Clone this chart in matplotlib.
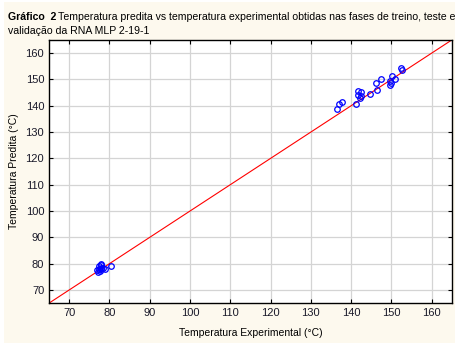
import matplotlib.pyplot as plt
from matplotlib.patches import Rectangle

plt.rcParams['font.family'] = ['Liberation Sans', 'DejaVu Sans']

# experimental vs predicted temperature (degC)
exp_low = [77.0, 77.3, 77.6, 77.8, 78.0, 77.5, 78.3, 78.8, 80.3, 77.2, 78.0, 77.9]
pred_low = [77.5, 78.0, 77.2, 78.5, 79.5, 79.0, 78.3, 78.0, 79.0, 76.8, 77.8, 80.0]
exp_high = [136.4, 137.0, 137.6, 141.3, 141.7, 142.5, 141.6, 142.4, 142.2, 144.6,
            146.1, 146.4, 147.4, 149.6, 149.6, 150.1, 149.8, 152.3, 152.5, 151.0]
pred_high = [138.6, 140.5, 141.5, 140.7, 145.6, 145.2, 144.0, 143.7, 143.0, 144.6,
             148.8, 146.0, 150.1, 147.8, 149.4, 151.3, 148.8, 154.5, 153.6, 150.0]
exp_t = exp_low + exp_high
pred_t = pred_low + pred_high

ticks = list(range(70, 170, 10))
lims = (65, 165)

fig = plt.figure(figsize=(4.63, 3.5), dpi=100)
fig.patch.set_facecolor('white')
fig.patches.append(Rectangle((0.008, 0.02), 0.975, 0.975, transform=fig.transFigure,
                             facecolor='#fdf9ee', edgecolor='none', zorder=-1))

ax = fig.add_axes([0.106, 0.134, 0.87, 0.752])
ax.set_facecolor('white')
ax.plot(lims, lims, color='red', lw=0.8, zorder=2)
ax.plot(exp_t, pred_t, 'o', mfc='none', mec='blue', ms=4.0, mew=0.9, zorder=3)

ax.set_xlim(lims)
ax.set_ylim(lims)
ax.set_xticks(ticks)
ax.set_yticks(ticks)
ax.grid(True, color='#d4d4d4', lw=0.9)
ax.set_axisbelow(True)
ax.tick_params(direction='in', length=3, labelsize=8, colors='black',
               top=True, right=True, labelcolor='#1a1a2a')
for s in ax.spines.values():
    s.set_linewidth(1.0)
ax.set_xlabel('Temperatura Experimental (°C)', fontsize=7.5, labelpad=7)
ax.set_ylabel('Temperatura Predita (°C)', fontsize=7.5, labelpad=5)

fig.text(0.017, 0.952, 'Gráfico  2', fontsize=7.6, fontweight='bold', va='center')
fig.text(0.125, 0.952, 'Temperatura predita vs temperatura experimental obtidas nas fases de treino, teste e',
         fontsize=7.6, va='center')
fig.text(0.017, 0.912, 'validação da RNA MLP 2-19-1', fontsize=7.6, va='center')

fig.savefig('out.png', dpi=100, facecolor=fig.get_facecolor())
